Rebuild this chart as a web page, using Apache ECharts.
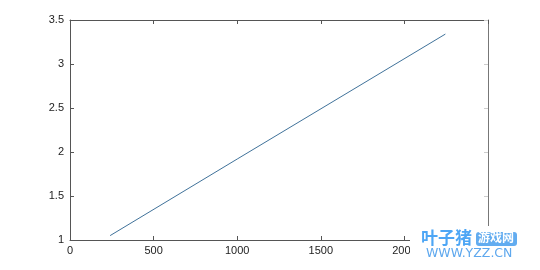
<!DOCTYPE html>
<html>
<head>
<meta charset="utf-8">
<script src="https://cdn.jsdelivr.net/npm/echarts@6/dist/echarts.min.js"></script>
<style>
html,body{margin:0;padding:0;background:#fff;}
#main{width:540px;height:270px;}
</style>
</head>
<body>
<div id="main"></div>
<script>
var xTicks = [0, 500, 1000, 1500, 2000, 2500];
var yTicks = [1, 1.5, 2, 2.5, 3, 3.5];
var lineX = [240, 1000, 2245];
var lineY = [1.05, 1.92, 3.34];

var data = lineX.map(function (x, i) { return [x, lineY[i]]; });
var font = 'Liberation Sans, Arial, sans-serif';
var axisColor = '#555';
var plain = function (v) { return String(v); };

var chart = echarts.init(document.getElementById('main'));
chart.setOption({
  animation: false,
  backgroundColor: '#fff',
  grid: { left: 70, right: 52, top: 20, bottom: 30 },
  xAxis: [{
    type: 'value', position: 'bottom',
    min: xTicks[0], max: xTicks[xTicks.length - 1], interval: 500,
    axisLine: { show: true, onZero: false, lineStyle: { color: axisColor, width: 1 } },
    axisTick: { show: true, inside: true, length: 4, lineStyle: { color: axisColor } },
    axisLabel: { color: '#222', fontSize: 11, fontFamily: font, margin: 5, formatter: plain },
    splitLine: { show: false }
  }, {
    type: 'value', position: 'top',
    min: xTicks[0], max: xTicks[xTicks.length - 1], interval: 500,
    axisLine: { show: true, onZero: false, lineStyle: { color: axisColor, width: 1 } },
    axisTick: { show: true, inside: true, length: 4, lineStyle: { color: axisColor } },
    axisLabel: { show: false },
    splitLine: { show: false }
  }],
  yAxis: [{
    type: 'value', position: 'left',
    min: yTicks[0], max: yTicks[yTicks.length - 1], interval: 0.5,
    axisLine: { show: true, onZero: false, lineStyle: { color: axisColor, width: 1 } },
    axisTick: { show: true, inside: true, length: 4, lineStyle: { color: axisColor } },
    axisLabel: { color: '#222', fontSize: 11, fontFamily: font, margin: 6, formatter: plain },
    splitLine: { show: false }
  }, {
    type: 'value', position: 'right',
    min: yTicks[0], max: yTicks[yTicks.length - 1], interval: 0.5,
    axisLine: { show: true, onZero: false, lineStyle: { color: '#777', width: 1 } },
    axisTick: { show: true, inside: true, length: 4, lineStyle: { color: '#ccc' } },
    axisLabel: { show: false },
    splitLine: { show: false }
  }],
  series: [{
    type: 'line',
    data: data,
    showSymbol: false,
    lineStyle: { color: '#40729a', width: 1 }
  }],
  graphic: [
    { type: 'rect', left: 410, top: 226, shape: { width: 130, height: 44 }, style: { fill: '#fff' }, z: 100 },
    { type: 'text', left: 421, top: 229, style: { text: '叶子猪', fill: '#4da6f5', font: 'bold 17px "Noto Sans CJK SC", sans-serif' }, z: 101 },
    { type: 'rect', left: 476, top: 232, shape: { width: 41, height: 14, r: 3 }, style: { fill: '#62acf0' }, z: 101 },
    { type: 'text', left: 478, top: 231, style: { text: '游戏网', fill: '#fff', font: 'bold 12px "Noto Sans CJK SC", sans-serif' }, z: 102 },
    { type: 'text', left: 426, top: 247, style: { text: 'WWW.YZZ.CN', fill: '#5ea8ee', font: '12.5px "DejaVu Sans", sans-serif' }, z: 101 }
  ]
});
</script>
</body>
</html>
